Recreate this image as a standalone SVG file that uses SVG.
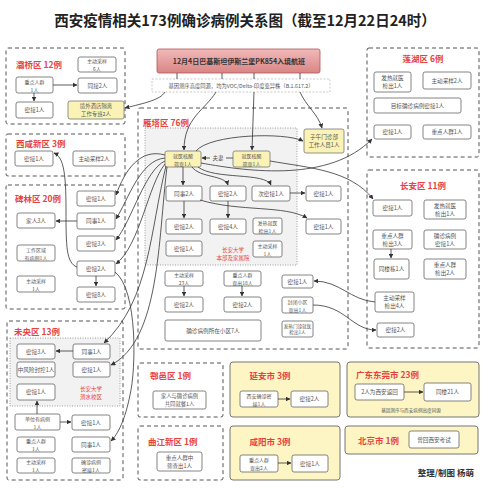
<svg xmlns="http://www.w3.org/2000/svg" width="490" height="499" viewBox="0 0 490 499">
<defs>
<marker id="a" viewBox="0 0 6 6" markerWidth="6" markerHeight="6" refX="5.5" refY="3" orient="auto" markerUnits="strokeWidth"><path d="M0,0 L6,3 L0,6 z" fill="#333"/></marker>
<linearGradient id="rg" x1="0" y1="0" x2="0" y2="1"><stop offset="0" stop-color="#f2b9b9"/><stop offset="1" stop-color="#d98585"/></linearGradient>
<style>
.zone{fill:none;stroke:#555;stroke-width:1;stroke-dasharray:4 3}
.city{fill:#fdf5c4;stroke:#777;stroke-width:1}
.inner{fill:#f2f2f2;stroke:#888;stroke-width:0.8;stroke-dasharray:1 1.5}
.n{fill:#fff;stroke:#666;stroke-width:0.8}
.y{fill:#fbf3b5;stroke:#777;stroke-width:0.8}
.t{font-family:"Noto Sans CJK SC","Noto Sans",sans-serif;font-size:5.6px;fill:#555;text-anchor:middle;dominant-baseline:central}
.t2{font-size:5px}
.s{font-size:4.6px}
.lab{font-family:"Noto Sans CJK SC","Noto Sans",sans-serif;font-size:8.5px;font-weight:bold;fill:#e8423f;dominant-baseline:central}
.rl{font-family:"Noto Sans CJK SC",sans-serif;font-size:5.5px;fill:#e8423f;text-anchor:middle;dominant-baseline:central}
.c{fill:none;stroke:#333;stroke-width:0.8;marker-end:url(#a)}
.p{fill:none;stroke:#333;stroke-width:0.8}
</style>
</defs>
<rect width="490" height="499" fill="#fff"/>
<text x="245" y="19" text-anchor="middle" dominant-baseline="central" font-family="Noto Sans CJK SC, sans-serif" font-size="14.5" font-weight="bold" fill="#222">西安疫情相关173例确诊病例关系图（截至12月22日24时）</text>

<g id="zones">
<rect class="zone" x="6" y="48" width="119" height="76" rx="2"/>
<text class="lab" x="16" y="64">灞桥区 12例</text>
<rect class="zone" x="6" y="134" width="119" height="42" rx="2"/>
<text class="lab" x="16" y="143">西咸新区 3例</text>
<rect class="zone" x="6" y="185" width="119" height="124" rx="2"/>
<text class="lab" x="15" y="198">碑林区 20例</text>
<rect class="zone" x="7" y="321" width="116" height="159" rx="2"/>
<rect class="inner" x="10" y="338" width="110" height="68"/>
<text class="lab" x="14" y="331">未央区 13例</text>
<text class="rl" x="91" y="389">长安大学<tspan x="91" dy="8.2">渭水校区</tspan></text>
<rect class="zone" x="138" y="108" width="210" height="241" rx="2"/>
<rect class="inner" x="145" y="128" width="152" height="137"/>
<text class="lab" x="143" y="122">雁塔区 76例</text>
<text class="rl" x="233" y="249.5">长安大学<tspan x="233" dy="8.2">本部及家属院</tspan></text>
<rect class="zone" x="367" y="48" width="112" height="109" rx="2"/>
<text class="lab" x="423" y="58" text-anchor="middle">莲湖区 6例</text>
<rect class="zone" x="367" y="170" width="112" height="178" rx="2"/>
<text class="lab" x="423" y="185" text-anchor="middle">长安区 11例</text>
<rect class="zone" x="138" y="363" width="85" height="54" rx="2"/>
<text class="lab" x="150" y="375">鄠邑区 1例</text>
<rect class="zone" x="138" y="426" width="85" height="54" rx="2"/>
<text class="lab" x="148" y="441">曲江新区 1例</text>
<rect class="city" x="230" y="362" width="110" height="55" rx="3"/>
<text class="lab" x="270" y="375" text-anchor="middle">延安市 3例</text>
<rect class="city" x="230" y="426" width="110" height="54" rx="3"/>
<text class="lab" x="270" y="441" text-anchor="middle">咸阳市 3例</text>
<rect class="city" x="347" y="362" width="132" height="55" rx="3"/>
<text class="lab" x="356" y="374">广东东莞市 23例</text>
<text class="t s" x="411" y="410">基因测序与西安病例高度同源</text>
<rect class="city" x="345" y="426" width="133" height="28" rx="3"/>
<text class="lab" x="358" y="440">北京市 1例</text>
</g>

<g id="flight">
<rect x="157" y="49" width="163" height="24" rx="2" fill="url(#rg)" stroke="#b05555" stroke-width="0.8"/>
<text class="t" x="239" y="61" style="font-size:7px;fill:#333;font-weight:bold">12月4日巴基斯坦伊斯兰堡PK854入境航班</text>
</g>
<g id="gene">
<rect x="152" y="79" width="178" height="13" fill="#fff" stroke="#aaa" stroke-width="0.6" stroke-dasharray="2 1.5"/>
<text class="t" x="241" y="85.5" style="font-size:5.3px">基因测序高度同源，均为VOC/Delta-印度变异株（B.1.617.2）</text>
</g>

<g id="baqiao">
<rect class="n" x="78" y="57" width="38" height="15" rx="2"/><text class="t t2" x="97" y="60.85">主动采样<tspan x="97" dy="7.3">6人</tspan></text>
<rect class="n" x="16" y="77" width="37" height="16" rx="2"/><text class="t t2" x="34.5" y="81.35">重点人群<tspan x="34.5" dy="7.3">1人</tspan></text>
<rect class="n" x="78" y="78" width="39" height="15" rx="2"/><text class="t" x="97.5" y="85.5">同接2人</text>
<rect class="n" x="16" y="102" width="37" height="16" rx="2"/><text class="t" x="34.5" y="110">密接1人</text>
<rect class="y" x="68" y="101" width="56" height="18" rx="2"/><text class="t" x="96" y="106" style="font-size:5.4px">境外酒店隔离<tspan x="96" dy="8">工作专班2人</tspan></text>
</g>
<g id="xixian">
<rect class="n" x="15" y="151" width="38" height="15" rx="2"/><text class="t" x="34" y="158.5">密接1人</text>
<rect class="n" x="73" y="151" width="42" height="15" rx="2"/><text class="t" x="94" y="158.5">主动采样2人</text>
</g>
<g id="beilin">
<rect class="n" x="77" y="191" width="38" height="15" rx="2"/><text class="t" x="96" y="198.5">密接1人</text>
<rect class="n" x="17" y="213" width="38" height="15" rx="2"/><text class="t" x="36" y="220.5">家人3人</text>
<rect class="n" x="77" y="213" width="38" height="16" rx="2"/><text class="t" x="96" y="221">同事1人</text>
<rect class="n" x="77" y="236" width="38" height="15" rx="2"/><text class="t" x="96" y="243.5">密接3人</text>
<rect class="n" x="17" y="245" width="38" height="16" rx="2"/><text class="t t2" x="36" y="249.35">工作区域<tspan x="36" dy="7.3">有病例1人</tspan></text>
<rect class="n" x="77" y="261" width="38" height="15" rx="2"/><text class="t" x="96" y="268.5">密接2人</text>
<rect class="n" x="17" y="276" width="38" height="16" rx="2"/><text class="t t2" x="36" y="280.35">主动采样<tspan x="36" dy="7.3">1人</tspan></text>
<rect class="n" x="77" y="287" width="38" height="15" rx="2"/><text class="t" x="96" y="294.5">密接8人</text>
</g>
<g id="weiyang">
<rect class="n" x="17" y="344" width="38" height="15" rx="2"/><text class="t" x="36" y="351.5">密接3人</text>
<rect class="n" x="73" y="344" width="37" height="15" rx="2"/><text class="t" x="91.5" y="351.5">同事1人</text>
<rect class="n" x="17" y="362" width="38" height="15" rx="2"/><text class="t" x="36" y="369.5">中风险封控1人</text>
<rect class="n" x="73" y="362" width="37" height="15" rx="2"/><text class="t" x="91.5" y="369.5">密接1人</text>
<rect class="n" x="17" y="384" width="38" height="16" rx="2"/><text class="t" x="36" y="392">密接1人</text>
<rect class="n" x="15" y="414" width="45" height="16" rx="2"/><text class="t t2" x="37.5" y="418.35">单位有病例<tspan x="37.5" dy="7.3">1人</tspan></text>
<rect class="n" x="72" y="415" width="38" height="15" rx="2"/><text class="t" x="91" y="422.5">密接1人</text>
<rect class="n" x="17" y="437" width="38" height="15" rx="2"/><text class="t t2" x="36" y="440.85">重点人群<tspan x="36" dy="7.3">1人</tspan></text>
<rect class="n" x="72" y="437" width="38" height="15" rx="2"/><text class="t" x="91" y="444.5">同事1人</text>
<rect class="n" x="17" y="458" width="38" height="15" rx="2"/><text class="t t2" x="36" y="461.85">主动采样<tspan x="36" dy="7.3">1人</tspan></text>
<rect class="n" x="72" y="458" width="38" height="15" rx="2"/><text class="t t2" x="91" y="461.85">确诊病例<tspan x="91" dy="7.3">密接1人</tspan></text>
</g>
<g id="yanta">
<rect class="y" x="165" y="151" width="36" height="16" rx="2"/><text class="t t2" x="183" y="155.35">就医核酸<tspan x="183" dy="7.3">筛查1人</tspan></text>
<rect class="y" x="233" y="151" width="37" height="16" rx="2"/><text class="t t2" x="251.5" y="155.35">就医核酸<tspan x="251.5" dy="7.3">筛查1人</tspan></text>
<rect class="y" x="304" y="129" width="40" height="24" rx="2"/><text class="t" x="324" y="137">子午门诊部<tspan x="324" dy="8.2">工作人员1人</tspan></text>
<rect class="n" x="166" y="186" width="36" height="15" rx="2"/><text class="t" x="184" y="193.5">同事2人</text>
<rect class="n" x="210" y="186" width="36" height="15" rx="2"/><text class="t" x="228" y="193.5">密接2人</text>
<rect class="n" x="252" y="186" width="38" height="15" rx="2"/><text class="t" x="271" y="193.5">次密接1人</text>
<rect class="n" x="306" y="186" width="35" height="15" rx="2"/><text class="t" x="323.5" y="193.5">密接1人</text>
<rect class="n" x="166" y="219" width="36" height="15" rx="2"/><text class="t" x="184" y="226.5">密接2人</text>
<rect class="n" x="210" y="219" width="36" height="15" rx="2"/><text class="t" x="228" y="226.5">密接4人</text>
<rect class="n" x="253" y="218" width="29" height="16" rx="2"/><text class="t t2" x="267.5" y="222.35">发热就医<tspan x="267.5" dy="7.3">检出1人</tspan></text>
<rect class="n" x="306" y="219" width="35" height="15" rx="2"/><text class="t" x="323.5" y="226.5">密接1人</text>
<rect class="n" x="166" y="241" width="36" height="15" rx="2"/><text class="t" x="184" y="248.5">密接1人</text>
<rect class="n" x="253" y="241" width="29" height="16" rx="2"/><text class="t t2" x="267.5" y="245.35">主动采样<tspan x="267.5" dy="7.3">1人</tspan></text>
<rect class="n" x="165" y="271" width="38" height="15" rx="2"/><text class="t t2" x="184" y="274.85">主动采样<tspan x="184" dy="7.3">23人</tspan></text>
<rect class="n" x="224" y="271" width="37" height="15" rx="2"/><text class="t t2" x="242.5" y="274.85">重点人群<tspan x="242.5" dy="7.3">查出18人</tspan></text>
<rect class="n" x="282" y="275" width="31" height="13" rx="2"/><text class="t" x="297.5" y="281.5">密接1人</text>
<rect class="n" x="165" y="297" width="38" height="15" rx="2"/><text class="t" x="184" y="304.5">密接2人</text>
<rect class="n" x="224" y="297" width="37" height="15" rx="2"/><text class="t" x="242.5" y="304.5">密接2人</text>
<rect class="n" x="282" y="297" width="31" height="16" rx="2"/><text class="t t2" x="297.5" y="301.35">封闭小区<tspan x="297.5" dy="7.3">查出1人</tspan></text>
<rect class="n" x="165" y="320" width="96" height="21" rx="2"/><text class="t" x="213" y="330.5">确诊病例所在小区7人</text>
<rect class="n" x="282" y="321" width="31" height="16" rx="2"/><text class="t s" x="297.5" y="325.6">发热门诊就医<tspan x="297.5" dy="6.8">检出1人</tspan></text>
</g>
<g id="lianhu">
<rect class="n" x="374" y="72" width="37" height="20" rx="2"/><text class="t" x="392.5" y="78">发热就医<tspan x="392.5" dy="8.2">检出1人</tspan></text>
<rect class="n" x="423" y="72" width="48" height="17" rx="2"/><text class="t" x="447" y="80.5">主动采样2人</text>
<rect class="n" x="374" y="98" width="87" height="15" rx="2"/><text class="t" x="417.5" y="105.5">目标确诊病例密接1人</text>
<rect class="n" x="374" y="125" width="37" height="14" rx="2"/><text class="t" x="392.5" y="132">密接1人</text>
<rect class="n" x="423" y="125" width="48" height="14" rx="2"/><text class="t" x="447" y="132">重点人群1人</text>
</g>
<g id="changan">
<rect class="n" x="373" y="200" width="39" height="16" rx="2"/><text class="t" x="392.5" y="208">密接1人</text>
<rect class="n" x="424" y="200" width="42" height="19" rx="2"/><text class="t" x="445" y="205.5">发热就医<tspan x="445" dy="8">检出1人</tspan></text>
<rect class="n" x="373" y="230" width="39" height="19" rx="2"/><text class="t" x="392.5" y="235.5">重点人群<tspan x="392.5" dy="8">检出3人</tspan></text>
<rect class="n" x="424" y="230" width="42" height="19" rx="2"/><text class="t" x="445" y="235.5">确诊病例<tspan x="445" dy="8">密接1人</tspan></text>
<rect class="n" x="374" y="259" width="35" height="20" rx="2"/><text class="t" x="391.5" y="269">同楼栋1人</text>
<rect class="n" x="424" y="259" width="42" height="20" rx="2"/><text class="t" x="445" y="265">重点人群<tspan x="445" dy="8">检出2人</tspan></text>
<rect class="n" x="375" y="292" width="39" height="20" rx="2"/><text class="t" x="394.5" y="298">主动采样<tspan x="394.5" dy="8">检出4人</tspan></text>
<rect class="n" x="377" y="323" width="37" height="14" rx="2"/><text class="t" x="395.5" y="330">密接2人</text>
</g>
<g id="huyi">
<rect class="n" x="153" y="391" width="53" height="18" rx="2"/><text class="t" x="179.5" y="396.2" style="font-size:5.3px">家人与确诊病例<tspan x="179.5" dy="7.7">共同就餐1人</tspan></text>
</g>
<g id="qujiang">
<rect class="n" x="157" y="452" width="45" height="19" rx="2"/><text class="t" x="179.5" y="457.5" style="font-size:5.5px">重点人群中<tspan x="179.5" dy="8">筛查出1人</tspan></text>
</g>
<g id="yanan">
<rect class="n" x="240" y="391" width="38" height="16" rx="2"/><text class="t t2" x="259" y="395.35">西安确诊密<tspan x="259" dy="7.3">接1人</tspan></text>
<rect class="n" x="291" y="391" width="37" height="16" rx="2"/><text class="t" x="309.5" y="399">密接2人</text>
</g>
<g id="xianyang">
<rect class="n" x="240" y="455" width="38" height="17" rx="2"/><text class="t t2" x="259" y="459.85">重点人群<tspan x="259" dy="7.3">查出2人</tspan></text>
<rect class="n" x="292" y="455" width="36" height="17" rx="2"/><text class="t" x="310" y="463.5">密接1人</text>
</g>
<g id="dongguan">
<rect class="n" x="355" y="384" width="49" height="16" rx="2"/><text class="t" x="379.5" y="392">2人为西安返回</text>
<rect class="n" x="424" y="383" width="47" height="18" rx="2"/><text class="t" x="447.5" y="392">同楼21人</text>
</g>
<g id="beijing">
<rect class="n" x="409" y="431" width="50" height="17" rx="2"/><text class="t" x="434" y="439.5">曾回西安考试</text>
</g>

<g id="connectors">
<path class="c" d="M53,85 L77,85"/>
<path class="c" d="M34,93 L34,101"/>
<path class="p" d="M177,73 L177,79 M222,73 L222,79 M254,73 L254,79 M300,73 L300,79"/>
<path class="c" d="M165,92 C160,100 145,103 125,108"/>
<path class="c" d="M216,92 C205,110 184,118 184,150"/>
<path class="c" d="M254,92 L252,150"/>
<path class="c" d="M300,92 C306,106 318,114 322,128"/>
<path class="c" d="M233,158 L202,158"/>
<rect x="210" y="154.5" width="16" height="7" fill="#f2f2f2"/>
<text class="t" x="218" y="158" style="font-size:5.5px">夫妻</text>
<path class="c" d="M196,151 C210,134 285,132 303,141"/>
<path class="c" d="M183,167 L183,185"/>
<path class="c" d="M192,167 C200,178 225,175 228,185"/>
<path class="c" d="M198,167 C215,180 265,172 271,185"/>
<path class="c" d="M290,193 L305,193"/>
<path class="c" d="M184,201 L184,218"/>
<path class="c" d="M228,201 L228,218"/>
<path class="c" d="M200,200 C240,212 285,205 307,218"/>
<path class="c" d="M201,163 C250,172 330,182 372,139"/>
<path class="c" d="M270,161 C310,168 350,170 373,199"/>
<path class="c" d="M165,155 C140,148 125,170 116,195"/>
<path class="c" d="M165,158 C140,160 128,200 116,219"/>
<path class="c" d="M165,161 C145,170 132,220 116,240"/>
<path class="c" d="M165,164 C148,185 140,245 116,264"/>
<path class="c" d="M166,166 C150,230 150,300 104,343"/>
<path class="c" d="M167,167 C158,240 160,340 111,365"/>
<path class="c" d="M115,272 C138,290 136,370 130,395 C125,420 118,434 111,441"/>
<path class="c" d="M77,267 C66,263 66,245 66,210 C66,170 63,157 54,153"/>
<path class="c" d="M77,221 L56,221"/>
<path class="c" d="M96,276 L96,286"/>
<path class="c" d="M73,351 L56,351"/>
<path class="c" d="M37,414 L37,401"/>
<path class="c" d="M60,422 L71,422"/>
<path class="c" d="M184,286 L184,296"/>
<path class="c" d="M242,286 L242,296"/>
<path class="c" d="M375,302 C350,300 340,281 314,281"/>
<path class="c" d="M313,305 C345,305 352,330 376,330"/>
<path class="c" d="M391,249 L391,258"/>
<path class="c" d="M278,399 L290,399"/>
<path class="c" d="M278,463 L291,463"/>
<path class="c" d="M404,392 L423,392"/>
</g>
<text x="474" y="472" text-anchor="end" dominant-baseline="central" font-family="Noto Sans CJK SC, sans-serif" font-size="8.5" font-weight="bold" fill="#333">整理/制图 杨萌</text>
</svg>
